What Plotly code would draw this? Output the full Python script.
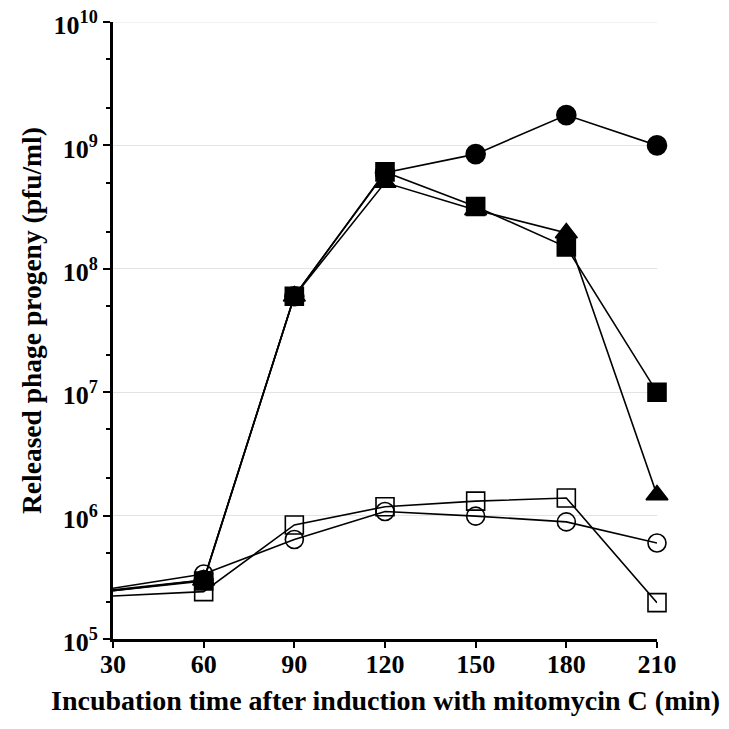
import plotly.graph_objects as go

times = [30, 60, 90, 120, 150, 180, 210]

filled_circle = [2.5e5, 3.0e5, 6.0e7, 6.0e8, 8.5e8, 1.76e9, 1.0e9]
filled_square = [2.46e5, 2.95e5, 6.0e7, 6.1e8, 3.2e8, 1.5e8, 1.0e7]
filled_triangle = [2.46e5, 3.0e5, 6.0e7, 5.0e8, 3.0e8, 1.95e8, 1.47e6]
open_square = [2.23e5, 2.42e5, 8.4e5, 1.18e6, 1.31e6, 1.39e6, 1.97e5]
open_circle = [2.58e5, 3.36e5, 6.4e5, 1.08e6, 9.9e5, 8.9e5, 6.0e5]

ytick_vals = [1e5, 1e6, 1e7, 1e8, 1e9, 1e10]
ytick_text = ["10<sup>5</sup>", "10<sup>6</sup>", "10<sup>7</sup>", "10<sup>8</sup>", "10<sup>9</sup>", "10<sup>10</sup>"]
xtick_vals = [30, 60, 90, 120, 150, 180, 210]

x_title = "Incubation time after induction with mitomycin C (min)"
y_title = "Released phage progeny (pfu/ml)"

series = [
    (open_square, "square-open", 18),
    (open_circle, "circle-open", 18),
    (filled_triangle, "triangle-up", 19),
    (filled_circle, "circle", 19),
    (filled_square, "square", 18),
]

fig = go.Figure()
for vals, sym, sz in series:
    sizes = [0] + [sz] * (len(times) - 1)
    fig.add_trace(go.Scatter(
        x=times, y=vals, mode="lines+markers", opacity=1,
        line=dict(color="#000000", width=1.6),
        marker=dict(symbol=sym, size=sizes, color="#000000", opacity=1,
                    line=dict(color="#000000", width=1.6)),
        cliponaxis=False, showlegend=False,
    ))

W, H = 729, 729
L, T, R, B = 105, 14, 80, 98
PW, PH = W - L - R, H - T - B
AXIS_BOTTOM = H - B  # figure y of x axis

font_family = "Liberation Serif, Times New Roman, serif"
fig.update_layout(
    width=W, height=H,
    margin=dict(l=L, r=R, t=T, b=B, autoexpand=False),
    plot_bgcolor="white", paper_bgcolor="white",
    font=dict(family=font_family, color="black"),
    shapes=[
        dict(type="line", xref="paper", x0=0, x1=1, yref="y", y0=1e10, y1=1e10,
             line=dict(color="#e3e3e3", width=1), layer="below"),
    ],
    annotations=[
        dict(text=x_title, xref="paper", yref="paper",
             x=0.5, y=-(692 - AXIS_BOTTOM) / PH,
             xanchor="center", yanchor="middle", showarrow=False,
             font=dict(size=28, family=font_family, weight="bold", color="black")),
        dict(text=y_title, xref="paper", yref="paper",
             x=(23 - L) / PW, y=(AXIS_BOTTOM - 313) / PH, textangle=-90,
             xanchor="center", yanchor="middle", showarrow=False,
             font=dict(size=27.5, family=font_family, weight="bold", color="black")),
    ],
)
fig.update_xaxes(
    range=[30, 210], tickvals=xtick_vals, automargin=False,
    showline=True, linecolor="black", linewidth=3,
    ticks="outside", ticklen=6, tickwidth=2, tickcolor="black",
    ticklabelstandoff=-6,
    showgrid=False, zeroline=False,
    tickfont=dict(size=26, family=font_family, weight="bold"),
)
fig.update_yaxes(
    type="log", range=[5, 10], tickvals=ytick_vals, ticktext=ytick_text,
    automargin=False,
    showline=True, linecolor="black", linewidth=3,
    ticks="outside", ticklen=7, tickwidth=2, tickcolor="black",
    ticklabeloverflow="allow", ticklabelshift=3,
    minor=dict(ticks="outside", ticklen=4, tickwidth=1.5, tickcolor="black", showgrid=False),
    showgrid=True, gridcolor="#e3e3e3", gridwidth=1, zeroline=False,
    tickfont=dict(size=26, family=font_family, weight="bold"),
)

fig.write_html("out.html")
